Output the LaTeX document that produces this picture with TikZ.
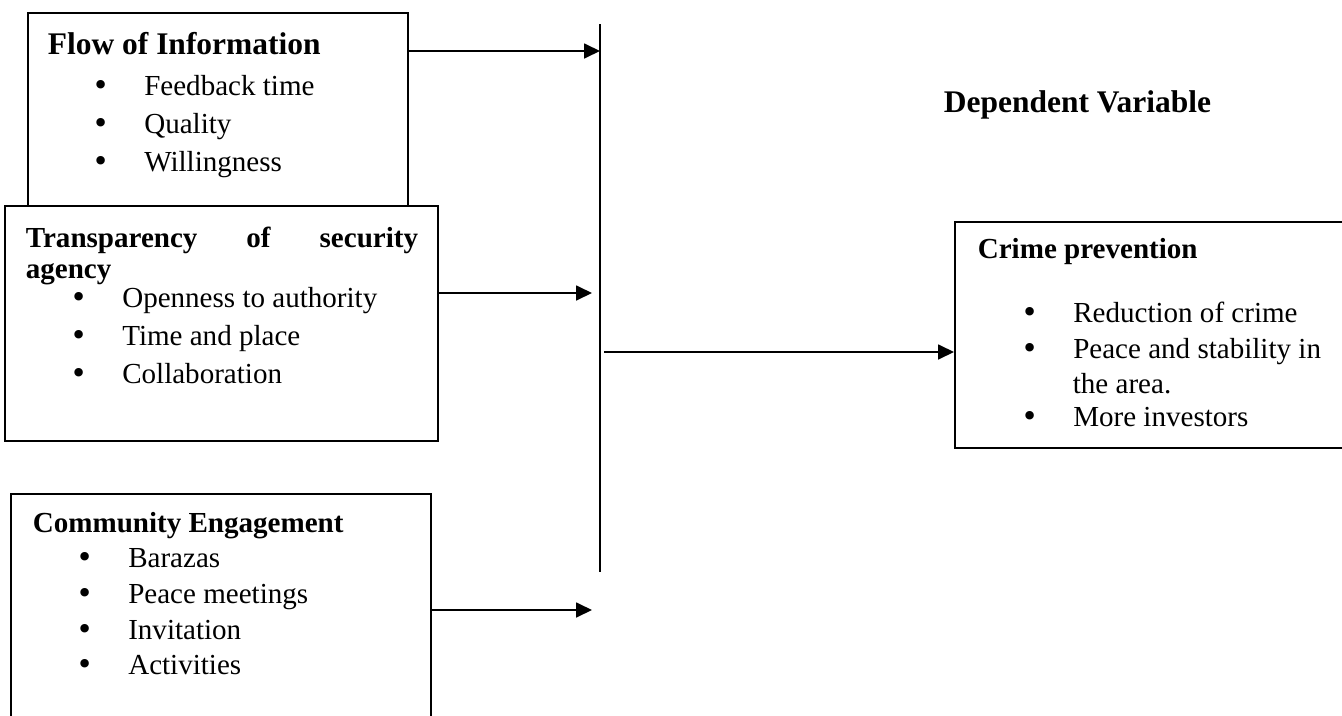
\documentclass[tikz,border=0pt]{standalone}
\usepackage{fontspec}
\setmainfont{Liberation Serif}
\newfontfamily\bulfont{DejaVu Sans}
\usetikzlibrary{arrows.meta}

\newcommand{\px}{0.413pt}
\newcommand{\bul}{\makebox[20pt][l]{\hspace{-1.3pt}{\bulfont\textbullet}}}

\begin{document}
\begin{tikzpicture}[x=\px, y=-\px, line width=0.7pt,
    box/.style={draw, fill=white, inner sep=0pt, anchor=north west},
    head/.style={font=\fontsize{12}{14}\selectfont\bfseries, inner sep=0pt, anchor=base west},
    item/.style={font=\fontsize{12}{14}\selectfont, inner sep=0pt, anchor=base west},
    arr/.style={-{Triangle[length=6.6pt, width=6.2pt]}}]
    \useasboundingbox (0,0) rectangle (1342,716);

    % flow of information
    \node[box, minimum width=380*\px, minimum height=196*\px] (flow) at (27,12) {};
    \node[head, font=\fontsize{13}{15}\selectfont\bfseries] (flowh) at (47,54) {Flow of Information};
    \node[item] (flow1) at (95,95) {\bul Feedback time};
    \node[item] (flow2) at (95,133) {\bul Quality};
    \node[item] (flow3) at (95,171) {\bul Willingness};

    % transparency
    \node[box, minimum width=433*\px, minimum height=235*\px] (transp) at (4,205) {};
    \node[head] (transph) at (25,247) {\makebox[162pt]{Transparency\hfill of\hfill security}};
    \node[head] (transph2) at (25,278) {agency};
    \node[item] (transp1) at (73,307) {\bul Openness to authority};
    \node[item] (transp2) at (73,345) {\bul Time and place};
    \node[item] (transp3) at (73,383) {\bul Collaboration};

    % community engagement
    \node[box, minimum width=420*\px, minimum height=240*\px] (commun) at (10,493) {};
    \node[head] (communh) at (32,532) {Community Engagement};
    \node[item] (commun1) at (79,567) {\bul Barazas};
    \node[item] (commun2) at (79,603) {\bul Peace meetings};
    \node[item] (commun3) at (79,639) {\bul Invitation};
    \node[item] (commun4) at (79,674) {\bul Activities};

    % dependent variable
    \node[head, font=\fontsize{13}{15}\selectfont\bfseries] (dep) at (943,112) {Dependent Variable};
    \node[box, minimum width=396*\px, minimum height=226*\px] (crime) at (954,221) {};
    \node[head] (crimeh) at (977,258) {Crime prevention};
    \node[item] (crime1) at (1024,322) {\bul Reduction of crime};
    \node[item] (crime2) at (1024,358) {\bul Peace and stability in};
    \node[item] (crime3) at (1072,393) {the area.};
    \node[item] (crime4) at (1024,426) {\bul More investors};

    % bar and arrows
    \coordinate (bartop) at (600,24);
    \coordinate (barbot) at (600,572);
    \coordinate (in1) at (600,51);
    \coordinate (in2) at (592,293);
    \coordinate (in3) at (592,610);
    \coordinate (out) at (604,352);
    \draw (bartop) -- (barbot);
    \draw[arr] (flow.east |- in1) -- (in1);
    \draw[arr] (transp.east |- in2) -- (in2);
    \draw[arr] (commun.east |- in3) -- (in3);
    \draw[arr] (out) -- (crime.west |- out);
\end{tikzpicture}
\end{document}
